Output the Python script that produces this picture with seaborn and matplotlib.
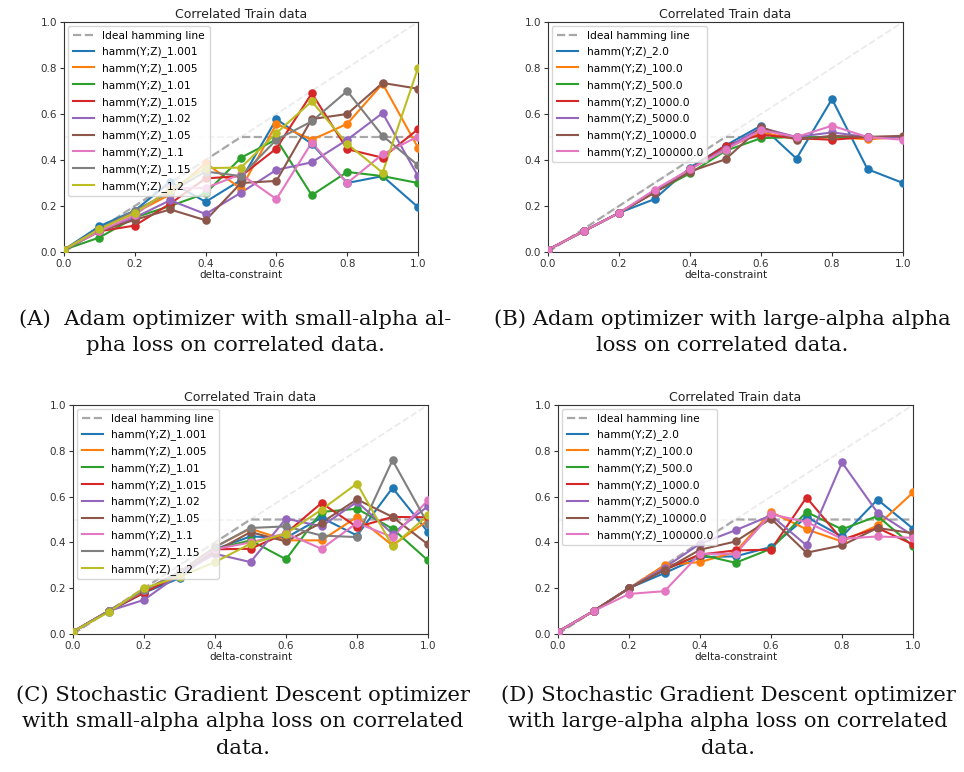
import matplotlib
matplotlib.use("Agg")
import matplotlib.pyplot as plt
import seaborn as sns

# ---------------- data ----------------
delta = [0.0, 0.1, 0.2, 0.3, 0.4, 0.5, 0.6, 0.7, 0.8, 0.9, 1.0]
ideal = [0.0, 0.1, 0.2, 0.3, 0.4, 0.5, 0.5, 0.5, 0.5, 0.5, 0.5]
diagonal = [0.0, 1.0]

small_labels = ["hamm(Y;Z)_1.001", "hamm(Y;Z)_1.005", "hamm(Y;Z)_1.01", "hamm(Y;Z)_1.015",
                "hamm(Y;Z)_1.02", "hamm(Y;Z)_1.05", "hamm(Y;Z)_1.1", "hamm(Y;Z)_1.15",
                "hamm(Y;Z)_1.2"]
large_labels = ["hamm(Y;Z)_2.0", "hamm(Y;Z)_100.0", "hamm(Y;Z)_500.0", "hamm(Y;Z)_1000.0",
                "hamm(Y;Z)_5000.0", "hamm(Y;Z)_10000.0", "hamm(Y;Z)_100000.0"]

# (A) Adam, small alpha
a_1001 = [0.01, 0.112, 0.18, 0.305, 0.218, 0.313, 0.578, 0.47, 0.30, 0.33, 0.195]
a_1005 = [0.01, 0.10, 0.17, 0.25, 0.387, 0.275, 0.557, 0.488, 0.557, 0.732, 0.454]
a_101 = [0.01, 0.063, 0.15, 0.20, 0.255, 0.41, 0.49, 0.247, 0.348, 0.33, 0.30]
a_1015 = [0.01, 0.09, 0.115, 0.21, 0.32, 0.33, 0.45, 0.69, 0.447, 0.41, 0.534]
a_102 = [0.01, 0.09, 0.15, 0.225, 0.165, 0.258, 0.357, 0.39, 0.488, 0.604, 0.33]
a_105 = [0.01, 0.09, 0.14, 0.185, 0.138, 0.30, 0.309, 0.578, 0.60, 0.735, 0.71]
a_11 = [0.01, 0.09, 0.16, 0.277, 0.278, 0.338, 0.23, 0.476, 0.30, 0.425, 0.502]
a_115 = [0.01, 0.10, 0.18, 0.26, 0.35, 0.33, 0.488, 0.568, 0.70, 0.505, 0.377]
a_12 = [0.01, 0.10, 0.17, 0.27, 0.365, 0.367, 0.517, 0.655, 0.47, 0.345, 0.80]

# (B) Adam, large alpha
b_2 = [0.01, 0.09, 0.17, 0.23, 0.367, 0.463, 0.549, 0.406, 0.665, 0.36, 0.30]
b_100 = [0.01, 0.09, 0.17, 0.26, 0.36, 0.45, 0.52, 0.49, 0.50, 0.49, 0.50]
b_500 = [0.01, 0.09, 0.17, 0.26, 0.342, 0.44, 0.495, 0.50, 0.50, 0.50, 0.50]
b_1000 = [0.01, 0.09, 0.17, 0.26, 0.36, 0.463, 0.51, 0.495, 0.488, 0.50, 0.50]
b_5000 = [0.01, 0.09, 0.17, 0.26, 0.36, 0.45, 0.54, 0.50, 0.52, 0.50, 0.50]
b_10000 = [0.01, 0.09, 0.17, 0.258, 0.35, 0.403, 0.543, 0.488, 0.505, 0.50, 0.505]
b_100000 = [0.01, 0.09, 0.17, 0.27, 0.36, 0.444, 0.53, 0.50, 0.549, 0.50, 0.488]

# (C) SGD, small alpha
c_1001 = [0.01, 0.098, 0.18, 0.244, 0.37, 0.426, 0.42, 0.508, 0.43, 0.638, 0.445]
c_1005 = [0.01, 0.10, 0.19, 0.27, 0.38, 0.46, 0.409, 0.409, 0.511, 0.387, 0.496]
c_101 = [0.01, 0.10, 0.19, 0.26, 0.37, 0.409, 0.326, 0.533, 0.547, 0.46, 0.321]
c_1015 = [0.01, 0.10, 0.18, 0.26, 0.37, 0.372, 0.44, 0.572, 0.467, 0.511, 0.51]
c_102 = [0.01, 0.10, 0.149, 0.26, 0.35, 0.314, 0.504, 0.47, 0.577, 0.438, 0.558]
c_105 = [0.01, 0.10, 0.19, 0.27, 0.36, 0.445, 0.404, 0.486, 0.588, 0.511, 0.391]
c_11 = [0.01, 0.10, 0.19, 0.27, 0.37, 0.40, 0.44, 0.372, 0.485, 0.423, 0.584]
c_115 = [0.01, 0.10, 0.19, 0.27, 0.38, 0.463, 0.47, 0.43, 0.423, 0.759, 0.48]
c_12 = [0.01, 0.095, 0.20, 0.25, 0.314, 0.394, 0.438, 0.543, 0.657, 0.384, 0.518]

# (D) SGD, large alpha
d_2 = [0.01, 0.10, 0.20, 0.266, 0.336, 0.339, 0.38, 0.511, 0.426, 0.587, 0.46]
d_100 = [0.01, 0.10, 0.20, 0.30, 0.314, 0.358, 0.533, 0.457, 0.404, 0.474, 0.618]
d_500 = [0.01, 0.10, 0.20, 0.28, 0.347, 0.311, 0.372, 0.533, 0.457, 0.515, 0.384]
d_1000 = [0.01, 0.10, 0.20, 0.28, 0.347, 0.365, 0.368, 0.596, 0.412, 0.463, 0.391]
d_5000 = [0.01, 0.10, 0.20, 0.29, 0.394, 0.453, 0.518, 0.387, 0.749, 0.53, 0.43]
d_10000 = [0.01, 0.10, 0.20, 0.28, 0.368, 0.404, 0.504, 0.355, 0.387, 0.463, 0.44]
d_100000 = [0.01, 0.10, 0.175, 0.187, 0.35, 0.35, 0.523, 0.489, 0.416, 0.426, 0.42]

ticks = [0.0, 0.2, 0.4, 0.6, 0.8, 1.0]
tick_labels = ["0.0", "0.2", "0.4", "0.6", "0.8", "1.0"]

captions = [
    "(A)  Adam optimizer with small-alpha al-\npha loss on correlated data.",
    "(B) Adam optimizer with large-alpha alpha\nloss on correlated data.",
    "(C) Stochastic Gradient Descent optimizer\nwith small-alpha alpha loss on correlated\ndata.",
    "(D) Stochastic Gradient Descent optimizer\nwith large-alpha alpha loss on correlated\ndata.",
]

# ---------------- figure ----------------
W, H = 964, 772
fig = plt.figure(figsize=(W / 100, H / 100), dpi=100)
palette = sns.color_palette("tab10")

def frac(x0, y0, x1, y1):
    return [x0 / W, 1 - y1 / H, (x1 - x0) / W, (y1 - y0) / H]

axes_px = [(64, 22, 418, 252), (548, 22, 903, 252), (73, 405, 428, 634), (558, 405, 913, 634)]
panels = [
    (small_labels, [a_1001, a_1005, a_101, a_1015, a_102, a_105, a_11, a_115, a_12]),
    (large_labels, [b_2, b_100, b_500, b_1000, b_5000, b_10000, b_100000]),
    (small_labels, [c_1001, c_1005, c_101, c_1015, c_102, c_105, c_11, c_115, c_12]),
    (large_labels, [d_2, d_100, d_500, d_1000, d_5000, d_10000, d_100000]),
]

for (px, (labels, series)) in zip(axes_px, panels):
    ax = fig.add_axes(frac(*px))
    ax.plot(diagonal, diagonal, ls="--", color="#ebebeb", lw=1.3, zorder=1)
    ax.axhline(0.5, ls="--", color="#f3f3f3", lw=1.3, zorder=1)
    sns.lineplot(x=delta, y=ideal, ax=ax, color="#a8a8a8", lw=1.6,
                 linestyle="--", label="Ideal hamming line", zorder=2)
    for i, (lab, vals) in enumerate(zip(labels, series)):
        sns.lineplot(x=delta, y=vals, ax=ax, color=palette[i], lw=1.5, label=lab, zorder=3)
        sns.scatterplot(x=delta, y=vals, ax=ax, color=palette[i], s=38,
                        linewidth=0, legend=False, zorder=4)
    ax.set_xlim(0, 1)
    ax.set_ylim(0, 1)
    ax.set_xticks(ticks)
    ax.set_xticklabels(tick_labels)
    ax.set_yticks(ticks)
    ax.set_yticklabels(tick_labels)
    ax.tick_params(labelsize=7.5, length=3, width=0.8, pad=2, colors="#333333")
    for s in ax.spines.values():
        s.set_color("#333333")
        s.set_linewidth(0.8)
    ax.set_title("Correlated Train data", fontsize=9, pad=3, color="#222222")
    ax.set_xlabel("delta-constraint", fontsize=7.5, labelpad=1, color="#222222")
    ax.set_ylabel("")
    leg = ax.legend(loc="upper left", fontsize=7.7, frameon=True, framealpha=0.8,
                    handlelength=2.0, labelspacing=0.55, borderpad=0.4, borderaxespad=0.4)
    leg.get_frame().set_edgecolor("#cccccc")

cap_pos = [(235, 322), (722, 322), (243, 698), (728, 698)]
for (cx, cy), txt in zip(cap_pos, captions):
    fig.text(cx / W, 1 - (cy - 13) / H, txt, ha="center", va="top",
             fontsize=15.2, family="DejaVu Serif", linespacing=1.5, color="#111111")

fig.savefig("out.png", dpi=100)
